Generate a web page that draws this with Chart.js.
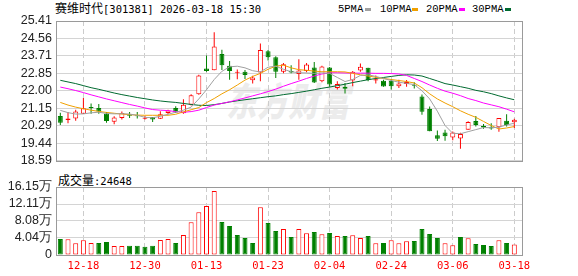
<!DOCTYPE html>
<html><head><meta charset="utf-8">
<script src="https://cdn.jsdelivr.net/npm/chart.js@4"></script>
<style>
body{margin:0;width:578px;height:276px;position:relative;background:#fff;overflow:hidden}
canvas{position:absolute;left:0}
#c1{top:0}
#c2{top:170px}
.t{position:absolute;white-space:nowrap;color:#000;line-height:14px}
.cjk{font-family:"Noto Sans CJK SC";font-size:12px}
.mono{font-family:"DejaVu Sans Mono";font-size:10.5px}
.lg{font-family:"Liberation Mono";font-size:10.5px}
.box{position:absolute;width:6px;height:3px}
#wm{position:absolute;left:236px;top:70px;font-family:"Noto Sans CJK SC";font-weight:900;font-size:30px;color:#ececec;transform:skewX(-12deg) scaleY(1.3);transform-origin:left top;letter-spacing:1px}
</style></head><body>
<div id="wm">东方财富</div>
<div class="t" style="left:55px;top:1px"><span class="cjk">赛维时代</span><span class="mono">[301381] 2026-03-18 15:30</span></div>
<div class="t lg" style="left:338px;top:2px">5PMA</div><div class="box" style="left:365px;top:8px;background:#a0a0a0"></div>
<div class="t lg" style="left:380px;top:2px">10PMA</div><div class="box" style="left:412px;top:8px;background:#f0a000"></div>
<div class="t lg" style="left:426px;top:2px">20PMA</div><div class="box" style="left:459px;top:8px;background:#ff00ff"></div>
<div class="t lg" style="left:472px;top:2px">30PMA</div><div class="box" style="left:505px;top:8px;background:#006a30"></div>
<div class="t" style="left:58px;top:173px"><span class="cjk">成交量</span><span class="mono">:24648</span></div>
<canvas id="c1" width="578" height="172"></canvas>
<canvas id="c2" width="578" height="106"></canvas>
<script>
const dates = ['12-15','12-16','12-17','12-18','12-19','12-22','12-23','12-24','12-25','12-26','12-29','12-30','12-31','01-05','01-06','01-07','01-08','01-09','01-12','01-13','01-14','01-15','01-16','01-19','01-20','01-21','01-22','01-23','01-26','01-27','01-28','01-29','01-30','02-02','02-03','02-04','02-05','02-06','02-09','02-10','02-11','02-12','02-13','02-24','02-25','02-26','02-27','03-02','03-03','03-04','03-05','03-06','03-09','03-10','03-11','03-12','03-13','03-16','03-17','03-18'];
const open  = [20.77,20.57,20.64,20.88,21.20,21.16,20.88,20.48,20.67,20.85,20.80,20.63,20.72,20.63,20.91,21.16,20.90,21.31,21.83,23.09,23.00,23.80,23.22,22.88,22.93,22.51,22.89,23.93,23.64,22.93,22.96,22.82,22.97,23.14,22.47,23.14,22.14,22.19,22.50,22.99,23.12,22.50,22.49,22.49,22.22,22.33,22.27,21.72,21.11,19.82,19.96,19.71,19.66,20.09,20.52,20.28,20.22,20.22,20.53,20.46];
const high  = [20.92,20.96,21.07,21.64,21.38,21.35,20.96,20.75,20.99,20.96,20.96,20.77,20.72,21.00,21.07,21.24,21.59,21.83,22.78,23.72,24.86,24.00,23.45,23.04,23.01,22.73,24.31,23.99,23.69,23.36,23.25,23.54,23.36,23.41,23.22,23.16,22.46,22.38,22.96,23.33,23.12,22.74,22.54,22.57,22.54,22.52,22.41,21.82,21.23,20.06,20.09,20.01,19.95,20.51,20.77,20.38,20.41,20.67,20.85,20.63];
const low   = [20.33,20.41,20.53,20.86,20.88,20.88,20.44,20.36,20.59,20.67,20.64,20.59,20.47,20.62,20.85,20.91,20.88,21.28,21.80,22.93,23.00,23.02,22.54,22.56,22.57,22.35,22.46,23.48,22.62,22.85,22.85,22.54,22.90,22.38,22.41,22.19,22.06,21.87,22.22,22.93,22.47,22.36,22.20,22.06,22.14,22.19,22.11,20.83,20.02,19.54,19.56,19.58,19.17,20.09,20.25,20.14,20.09,19.99,20.25,20.18];
const close = [20.44,20.64,20.99,21.15,21.16,20.99,20.52,20.69,20.91,20.78,20.75,20.65,20.59,20.85,21.04,20.94,21.32,21.78,22.74,22.96,24.16,23.25,22.97,22.90,22.77,22.65,23.99,23.64,22.93,23.29,22.89,22.99,23.28,22.40,23.18,22.31,22.33,22.10,22.93,23.17,22.52,22.56,22.21,22.22,22.35,22.43,22.24,20.97,20.02,19.65,19.77,19.96,19.89,20.47,20.33,20.20,20.15,20.67,20.32,20.58];
const volume = [38000,37300,27700,34800,28500,28500,30900,21400,21400,22200,22200,19700,22200,35600,38000,28500,47500,77600,101300,116400,152000,78400,68900,47500,40400,28500,113200,76000,57000,61800,42800,61800,51500,54600,49100,52300,45100,45100,46700,40400,45100,27700,28500,34800,27700,32500,33300,61800,49900,40400,27700,23000,42800,39600,26100,23800,21400,34800,28500,24648];
const ma5  = [21.04,20.93,20.86,20.87,20.92,20.95,20.89,20.87,20.88,20.86,20.80,20.70,20.68,20.75,20.85,20.95,21.05,21.20,21.60,22.05,22.55,22.95,23.17,23.20,23.12,22.98,22.92,23.15,23.20,23.05,22.93,22.88,22.87,22.85,22.87,22.85,22.65,22.45,22.55,22.75,22.78,22.70,22.60,22.50,22.42,22.36,22.30,22.00,21.60,21.00,20.30,19.92,19.90,20.00,20.10,20.20,20.19,20.22,20.33,20.41];
const ma10 = [21.43,21.30,21.20,21.12,21.05,20.99,20.94,20.90,20.86,20.83,20.81,20.80,20.80,20.80,20.80,20.85,20.97,21.07,21.18,21.42,21.62,21.85,22.05,22.28,22.52,22.70,22.85,23.05,23.20,23.25,23.12,23.03,23.00,22.96,22.93,22.93,22.93,22.92,22.85,22.78,22.72,22.66,22.60,22.55,22.50,22.45,22.38,22.15,21.85,21.60,21.40,21.22,21.02,20.85,20.70,20.50,20.30,20.13,20.18,20.25];
const ma20 = [22.18,22.10,22.01,21.91,21.80,21.70,21.60,21.51,21.42,21.33,21.25,21.16,21.08,21.05,21.03,20.98,20.95,20.98,21.05,21.18,21.30,21.38,21.46,21.55,21.65,21.75,21.85,21.96,22.08,22.22,22.35,22.47,22.60,22.72,22.82,22.88,22.88,22.87,22.86,22.86,22.86,22.85,22.85,22.84,22.82,22.75,22.60,22.45,22.28,22.12,21.98,21.88,21.76,21.62,21.52,21.40,21.31,21.22,21.10,20.97];
const ma30 = [22.51,22.43,22.35,22.25,22.15,22.07,21.98,21.89,21.81,21.74,21.67,21.61,21.55,21.50,21.46,21.43,21.38,21.33,21.29,21.28,21.32,21.38,21.45,21.51,21.56,21.61,21.66,21.71,21.75,21.81,21.86,21.92,21.98,22.05,22.12,22.18,22.25,22.32,22.40,22.47,22.54,22.60,22.65,22.70,22.75,22.78,22.77,22.72,22.60,22.48,22.35,22.28,22.20,22.12,22.02,21.95,21.86,21.75,21.65,21.56];
const priceTicks = [18.59,19.44,20.29,21.15,22.00,22.85,23.71,24.56,25.41];
const volTicks = [0,40400,80800,121100,161500];
const volTickLabels = ['0','4.04万','8.08万','12.11万','16.15万'];
const dateTickIdx = [3,11,19,27,35,43,51,59];

const RED='#ff0000', GREEN='#008000';
const up = close.map((c,i)=>c>=open[i]);
const volUp = close.map((c,i)=>i===0 ? c>=open[i] : c>=close[i-1]);
const XMIN=-0.56, XMAX=60.0;

const frame = {id:'frame', afterDraw(c){const a=c.chartArea,x=c.ctx;x.save();x.strokeStyle='#9a9a9a';x.lineWidth=1;
  x.strokeRect(Math.round(a.left)+0.5,Math.round(a.top)+0.5,Math.round(a.right-a.left),Math.round(a.bottom-a.top));x.restore();}};

function xScale(showLabels){
  return {type:'linear',min:XMIN,max:XMAX,offset:false,
    afterBuildTicks:s=>{s.ticks=dateTickIdx.map(v=>({value:v}));},
    afterFit:s=>{s.height=showLabels?21:0;},
    grid:{color:'#cccccc',drawTicks:false,lineWidth:1,offset:false},
    border:{display:false,dash:[5,3]},
    ticks:{display:showLabels,padding:5,color:'#ff0000',font:{family:'DejaVu Sans Mono',size:10.5},
      callback:v=>dates[v],maxRotation:0,autoSkip:false}};
}
const ytickFont={family:'Liberation Sans',size:12.5};

Chart.defaults.animation=false;
const lineDs=(d,c)=>({type:'line',data:d.map((v,i)=>({x:i,y:v})),borderColor:c,borderWidth:1,pointRadius:0,tension:0,order:1});

new Chart(document.getElementById('c1'),{
  type:'bar',
  data:{datasets:[
    {data:close.map((c,i)=>({x:i,y:[low[i],high[i]]})),backgroundColor:up.map(u=>u?RED:GREEN),barThickness:1,grouped:false,order:3,inflateAmount:0},
    {data:close.map((c,i)=>({x:i,y:[open[i],c]})),backgroundColor:up.map(u=>u?'#ffffff':GREEN),borderColor:up.map(u=>u?RED:GREEN),
      borderWidth:1,borderSkipped:false,barThickness:5,grouped:false,minBarLength:1,order:2,inflateAmount:0},
    lineDs(ma5,'#a0a0a0'),lineDs(ma10,'#f0a000'),lineDs(ma20,'#ff00ff'),lineDs(ma30,'#006a30')
  ]},
  options:{responsive:false,devicePixelRatio:1,
    layout:{padding:{left:0,right:56,top:21,bottom:7}},
    plugins:{legend:{display:false},tooltip:{enabled:false}},
    scales:{
      x:xScale(false),
      y:{min:18.59,max:25.41,afterBuildTicks:s=>{s.ticks=priceTicks.map(v=>({value:v}));},
        afterFit:s=>{s.width=56;},
        grid:{color:'#d4d4d4',drawTicks:false},border:{display:false},
        ticks:{padding:4,color:'#222',font:ytickFont,autoSkip:false,callback:v=>v.toFixed(2)}}
    }},
  plugins:[frame]
});

new Chart(document.getElementById('c2'),{
  type:'bar',
  data:{datasets:[
    {data:volume.map((v,i)=>({x:i,y:v})),backgroundColor:volUp.map(u=>u?'#ffffff':GREEN),borderColor:volUp.map(u=>u?RED:GREEN),
     borderWidth:1,borderSkipped:false,barThickness:5,grouped:false,inflateAmount:0}
  ]},
  options:{responsive:false,devicePixelRatio:1,
    layout:{padding:{left:0,right:56,top:17,bottom:0}},
    plugins:{legend:{display:false},tooltip:{enabled:false}},
    scales:{
      x:xScale(true),
      y:{min:0,max:161500,afterBuildTicks:s=>{s.ticks=volTicks.map(v=>({value:v}));},
        afterFit:s=>{s.width=56;},
        grid:{color:'#d4d4d4',drawTicks:false},border:{display:false},
        ticks:{padding:4,color:'#222',font:ytickFont,autoSkip:false,callback:v=>volTickLabels[volTicks.indexOf(v)]}}
    }},
  plugins:[frame]
});
</script>
</body></html>
